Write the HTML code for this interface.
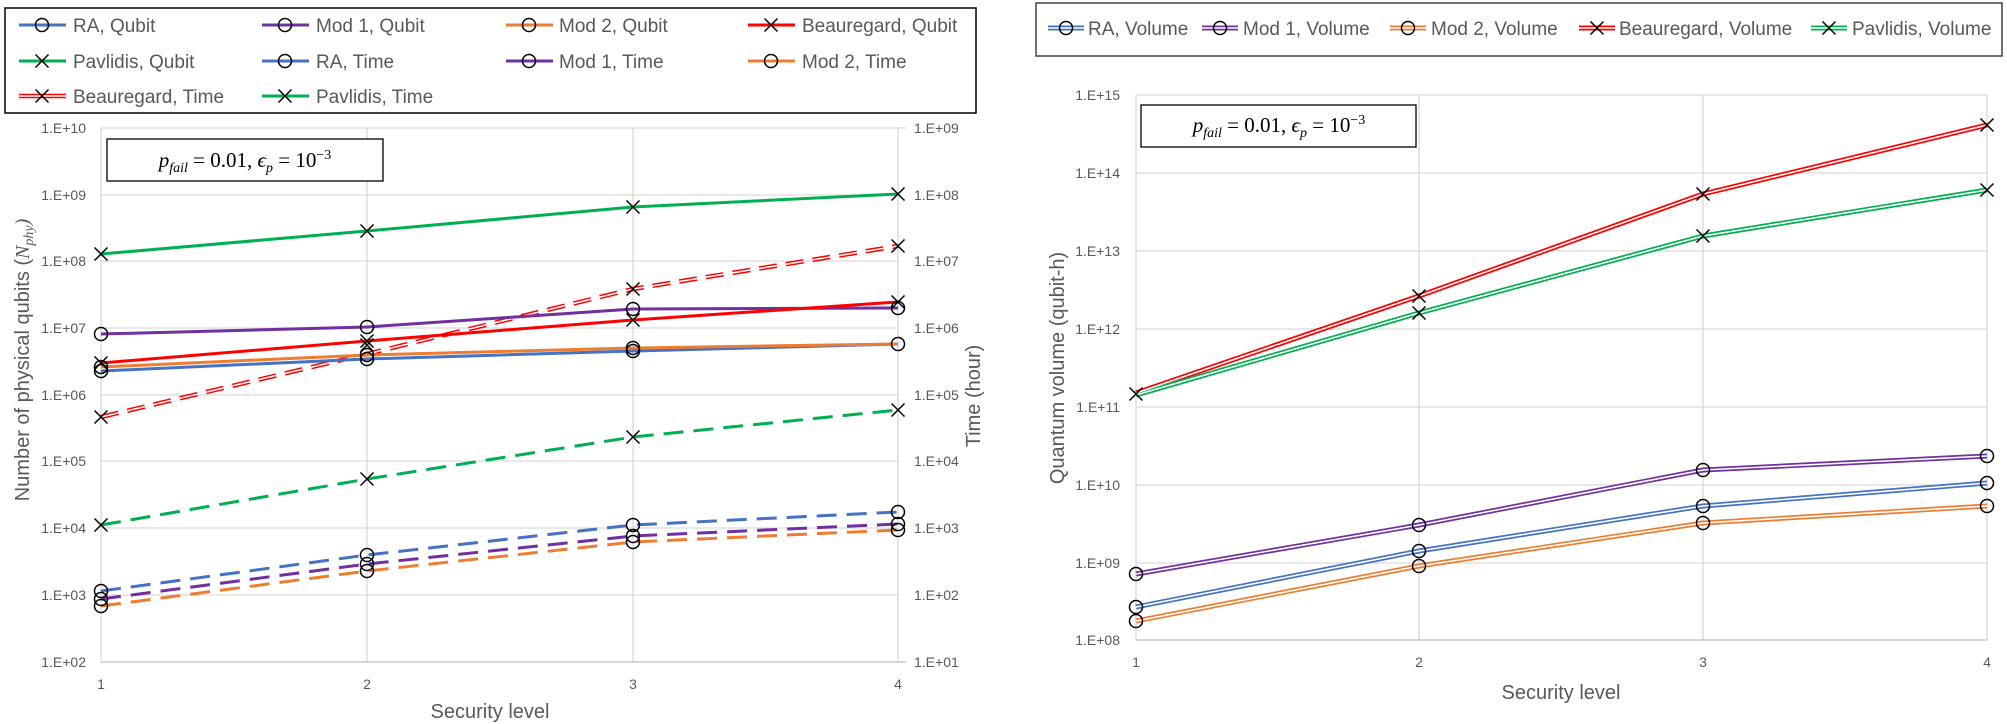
<!DOCTYPE html>
<html><head><meta charset="utf-8"><style>
html,body{margin:0;padding:0;background:#fff;}
svg{display:block;}
text{font-family:"Liberation Sans",sans-serif;fill:#595959;}
.tk{font-size:14px;}
.lg{font-size:19px;fill:#404040;}
.at{font-size:20px;}
.f{font-family:"Liberation Serif",serif;font-size:21px;fill:#000;}
</style></head><body>
<svg width="2007" height="724" viewBox="0 0 2007 724" xmlns="http://www.w3.org/2000/svg">
<defs>
<g id="o"><circle r="6.5" fill="none" stroke="#000" stroke-width="1.5"/></g>
<g id="x"><path d="M-6.5,-6.5L6.5,6.5M-6.5,6.5L6.5,-6.5" stroke="#000" stroke-width="1.5"/></g>
</defs>
<!-- LEFT CHART -->
<rect x="5" y="8" width="971" height="105" fill="#fff" stroke="#000" stroke-width="1.5"/>
<g fill="none" stroke-width="3">
<line x1="19" y1="25" x2="66" y2="25" stroke="#4472c4"/>
<line x1="262" y1="25" x2="309" y2="25" stroke="#7030a0"/>
<line x1="506" y1="25" x2="553" y2="25" stroke="#ed7d31"/>
<line x1="748" y1="25" x2="795" y2="25" stroke="#ff0000"/>
<line x1="19" y1="61" x2="66" y2="61" stroke="#00b050"/>
<line x1="262" y1="61" x2="309" y2="61" stroke="#4472c4"/>
<line x1="506" y1="61" x2="553" y2="61" stroke="#7030a0"/>
<line x1="748" y1="61" x2="795" y2="61" stroke="#ed7d31"/>
<line x1="19" y1="96" x2="66" y2="96" stroke="#ff0000" stroke-width="4.5"/>
<line x1="19" y1="96" x2="66" y2="96" stroke="#fff" stroke-width="1.5"/>
<line x1="262" y1="96" x2="309" y2="96" stroke="#00b050"/>
</g>
<use href="#o" x="42" y="25"/><use href="#o" x="285" y="25"/><use href="#o" x="529" y="25"/><use href="#x" x="771" y="25"/>
<use href="#x" x="42" y="61"/><use href="#o" x="285" y="61"/><use href="#o" x="529" y="61"/><use href="#o" x="771" y="61"/>
<use href="#x" x="42" y="96"/><use href="#x" x="285" y="96"/>
<g class="lg">
<text x="73" y="32">RA, Qubit</text><text x="316" y="32">Mod 1, Qubit</text><text x="559" y="32">Mod 2, Qubit</text><text x="802" y="32">Beauregard, Qubit</text>
<text x="73" y="68">Pavlidis, Qubit</text><text x="316" y="68">RA, Time</text><text x="559" y="68">Mod 1, Time</text><text x="802" y="68">Mod 2, Time</text>
<text x="73" y="103">Beauregard, Time</text><text x="316" y="103">Pavlidis, Time</text>
</g>
<g stroke="#d9d9d9" stroke-width="1.3">
<line x1="101" y1="128" x2="898" y2="128"/><line x1="101" y1="195" x2="898" y2="195"/><line x1="101" y1="261" x2="898" y2="261"/>
<line x1="101" y1="328" x2="898" y2="328"/><line x1="101" y1="395" x2="898" y2="395"/><line x1="101" y1="461" x2="898" y2="461"/>
<line x1="101" y1="528" x2="898" y2="528"/><line x1="101" y1="595" x2="898" y2="595"/>
<line x1="101" y1="128" x2="101" y2="662"/><line x1="367" y1="128" x2="367" y2="662"/><line x1="633" y1="128" x2="633" y2="662"/><line x1="898" y1="128" x2="898" y2="662"/>
<line x1="898" y1="128" x2="906" y2="128"/>
</g>
<line x1="101" y1="662" x2="906" y2="662" stroke="#bfbfbf" stroke-width="1.3"/>
<g class="tk" text-anchor="end">
<text x="86" y="133">1.E+10</text><text x="86" y="200">1.E+09</text><text x="86" y="266">1.E+08</text><text x="86" y="333">1.E+07</text>
<text x="86" y="400">1.E+06</text><text x="86" y="466">1.E+05</text><text x="86" y="533">1.E+04</text><text x="86" y="600">1.E+03</text><text x="86" y="667">1.E+02</text>
</g>
<g class="tk">
<text x="914" y="133">1.E+09</text><text x="914" y="200">1.E+08</text><text x="914" y="266">1.E+07</text><text x="914" y="333">1.E+06</text>
<text x="914" y="400">1.E+05</text><text x="914" y="466">1.E+04</text><text x="914" y="533">1.E+03</text><text x="914" y="600">1.E+02</text><text x="914" y="667">1.E+01</text>
</g>
<g class="tk" text-anchor="middle"><text x="101" y="689">1</text><text x="367" y="689">2</text><text x="633" y="689">3</text><text x="898" y="689">4</text></g>
<text class="at" x="490" y="718" text-anchor="middle">Security level</text>
<text class="at" transform="translate(29,360) rotate(-90)" text-anchor="middle">Number of physical qubits (<tspan font-family="Liberation Serif" font-style="italic">N<tspan font-size="14" dy="4">phy</tspan><tspan dy="-4">)</tspan></tspan></text>
<text class="at" transform="translate(980,396) rotate(-90)" text-anchor="middle">Time (hour)</text>
<rect x="107" y="139" width="276" height="42" fill="#fff" stroke="#000" stroke-width="1.3"/>
<text class="f" x="245" y="167" text-anchor="middle"><tspan font-style="italic">p<tspan font-size="14" dy="5">fail</tspan></tspan><tspan dy="-5"> = 0.01, </tspan><tspan font-style="italic">ϵ<tspan font-size="14" dy="5">p</tspan></tspan><tspan dy="-5"> = 10</tspan><tspan font-size="14" dy="-8">−3</tspan></text>
<g fill="none" stroke-width="3" stroke-linejoin="round">
<polyline points="101,254 367,231 633,207 898,194" stroke="#00b050"/>
<polyline points="101,417 367,354 633,289 898,246" stroke="#ff0000" stroke-width="4.5" stroke-dasharray="18,9"/>
<polyline points="101,417 367,354 633,289 898,246" stroke="#fff" stroke-width="1.5" stroke-dasharray="18,9"/>
<polyline points="101,334 367,327 633,309 898,308" stroke="#7030a0"/>
<polyline points="101,363 367,341 633,320 898,302" stroke="#ff0000"/>
<polyline points="101,371 367,359 633,351 898,344" stroke="#4472c4"/>
<polyline points="101,367 367,355 633,348 898,344" stroke="#ed7d31"/>
<polyline points="101,525 367,479 633,437 898,410" stroke="#00b050" stroke-dasharray="20,10"/>
<polyline points="101,591 367,555 633,525 898,512" stroke="#4472c4" stroke-dasharray="20,10"/>
<polyline points="101,599 367,564 633,536 898,524" stroke="#7030a0" stroke-dasharray="20,10"/>
<polyline points="101,606 367,571 633,542 898,530" stroke="#ed7d31" stroke-dasharray="20,10"/>
</g>
<g>
<use href="#x" x="101" y="254"/><use href="#x" x="367" y="231"/><use href="#x" x="633" y="207"/><use href="#x" x="898" y="194"/>
<use href="#x" x="101" y="417"/><use href="#x" x="367" y="345"/><use href="#x" x="633" y="289"/><use href="#x" x="898" y="246"/>
<use href="#o" x="101" y="334"/><use href="#o" x="367" y="327"/><use href="#o" x="633" y="309"/><use href="#o" x="898" y="308"/>
<use href="#x" x="101" y="363"/><use href="#x" x="367" y="341"/><use href="#x" x="633" y="320"/><use href="#x" x="898" y="302"/>
<use href="#o" x="101" y="371"/><use href="#o" x="367" y="359"/><use href="#o" x="633" y="351"/><use href="#o" x="898" y="344"/>
<use href="#o" x="101" y="367"/><use href="#o" x="367" y="355"/><use href="#o" x="633" y="348"/>
<use href="#x" x="101" y="525"/><use href="#x" x="367" y="479"/><use href="#x" x="633" y="437"/><use href="#x" x="898" y="410"/>
<use href="#o" x="101" y="591"/><use href="#o" x="367" y="555"/><use href="#o" x="633" y="525"/><use href="#o" x="898" y="512"/>
<use href="#o" x="101" y="599"/><use href="#o" x="367" y="564"/><use href="#o" x="633" y="536"/><use href="#o" x="898" y="524"/>
<use href="#o" x="101" y="606"/><use href="#o" x="367" y="571"/><use href="#o" x="633" y="542"/><use href="#o" x="898" y="530"/>
</g>

<!-- RIGHT CHART -->
<rect x="1036" y="3" width="966" height="53" fill="#fff" stroke="#404040" stroke-width="1.5"/>
<g fill="none" stroke-width="5">
<line x1="1048" y1="28" x2="1084" y2="28" stroke="#4472c4"/>
<line x1="1202" y1="28" x2="1238" y2="28" stroke="#7030a0"/>
<line x1="1390" y1="28" x2="1426" y2="28" stroke="#ed7d31"/>
<line x1="1579" y1="28" x2="1615" y2="28" stroke="#ff0000"/>
<line x1="1811" y1="28" x2="1847" y2="28" stroke="#00b050"/>
<g stroke="#fff" stroke-width="1.6">
<line x1="1048" y1="28" x2="1084" y2="28"/><line x1="1202" y1="28" x2="1238" y2="28"/><line x1="1390" y1="28" x2="1426" y2="28"/><line x1="1579" y1="28" x2="1615" y2="28"/><line x1="1811" y1="28" x2="1847" y2="28"/>
</g></g>
<use href="#o" x="1066" y="28"/><use href="#o" x="1220" y="28"/><use href="#o" x="1408" y="28"/><use href="#x" x="1597" y="28"/><use href="#x" x="1829" y="28"/>
<g class="lg"><text x="1088" y="35">RA, Volume</text><text x="1243" y="35">Mod 1, Volume</text><text x="1431" y="35">Mod 2, Volume</text><text x="1619" y="35">Beauregard, Volume</text><text x="1852" y="35">Pavlidis, Volume</text></g>
<g stroke="#d9d9d9" stroke-width="1.3">
<line x1="1136" y1="95" x2="1987" y2="95"/><line x1="1136" y1="173" x2="1987" y2="173"/><line x1="1136" y1="251" x2="1987" y2="251"/>
<line x1="1136" y1="329" x2="1987" y2="329"/><line x1="1136" y1="407" x2="1987" y2="407"/><line x1="1136" y1="485" x2="1987" y2="485"/>
<line x1="1136" y1="563" x2="1987" y2="563"/>
<line x1="1136" y1="95" x2="1136" y2="640"/><line x1="1419" y1="95" x2="1419" y2="640"/><line x1="1703" y1="95" x2="1703" y2="640"/><line x1="1987" y1="95" x2="1987" y2="640"/>
</g>
<line x1="1136" y1="640" x2="1987" y2="640" stroke="#bfbfbf" stroke-width="1.3"/>
<g class="tk" text-anchor="end">
<text x="1120" y="100">1.E+15</text><text x="1120" y="178">1.E+14</text><text x="1120" y="256">1.E+13</text><text x="1120" y="334">1.E+12</text>
<text x="1120" y="412">1.E+11</text><text x="1120" y="490">1.E+10</text><text x="1120" y="568">1.E+09</text><text x="1120" y="645">1.E+08</text>
</g>
<g class="tk" text-anchor="middle"><text x="1136" y="667">1</text><text x="1419" y="667">2</text><text x="1703" y="667">3</text><text x="1987" y="667">4</text></g>
<text class="at" x="1561" y="699" text-anchor="middle">Security level</text>
<text class="at" transform="translate(1064,368) rotate(-90)" text-anchor="middle">Quantum volume (qubit-h)</text>
<rect x="1141" y="105" width="275" height="42" fill="#fff" stroke="#000" stroke-width="1.3"/>
<text class="f" x="1279" y="132" text-anchor="middle"><tspan font-style="italic">p<tspan font-size="14" dy="5">fail</tspan></tspan><tspan dy="-5"> = 0.01, </tspan><tspan font-style="italic">ϵ<tspan font-size="14" dy="5">p</tspan></tspan><tspan dy="-5"> = 10</tspan><tspan font-size="14" dy="-8">−3</tspan></text>
<g fill="none" stroke-width="5" stroke-linejoin="round">
<polyline points="1136,393 1419,296 1703,194 1987,125" stroke="#ff0000"/>
<polyline points="1136,395 1419,313 1703,236 1987,190" stroke="#00b050"/>
<polyline points="1136,574 1419,525 1703,470 1987,456" stroke="#7030a0"/>
<polyline points="1136,607 1419,551 1703,506 1987,483" stroke="#4472c4"/>
<polyline points="1136,621 1419,566 1703,523 1987,506" stroke="#ed7d31"/>
<g stroke="#fff" stroke-width="1.6">
<polyline points="1136,393 1419,296 1703,194 1987,125"/>
<polyline points="1136,395 1419,313 1703,236 1987,190"/>
<polyline points="1136,574 1419,525 1703,470 1987,456"/>
<polyline points="1136,607 1419,551 1703,506 1987,483"/>
<polyline points="1136,621 1419,566 1703,523 1987,506"/>
</g></g>
<use href="#x" x="1136" y="394"/><use href="#x" x="1419" y="296"/><use href="#x" x="1703" y="194"/><use href="#x" x="1987" y="125"/>
<use href="#x" x="1419" y="313"/><use href="#x" x="1703" y="236"/><use href="#x" x="1987" y="190"/>
<use href="#o" x="1136" y="574"/><use href="#o" x="1419" y="525"/><use href="#o" x="1703" y="470"/><use href="#o" x="1987" y="456"/>
<use href="#o" x="1136" y="607"/><use href="#o" x="1419" y="551"/><use href="#o" x="1703" y="506"/><use href="#o" x="1987" y="483"/>
<use href="#o" x="1136" y="621"/><use href="#o" x="1419" y="566"/><use href="#o" x="1703" y="523"/><use href="#o" x="1987" y="506"/>
</svg>
</body></html>
